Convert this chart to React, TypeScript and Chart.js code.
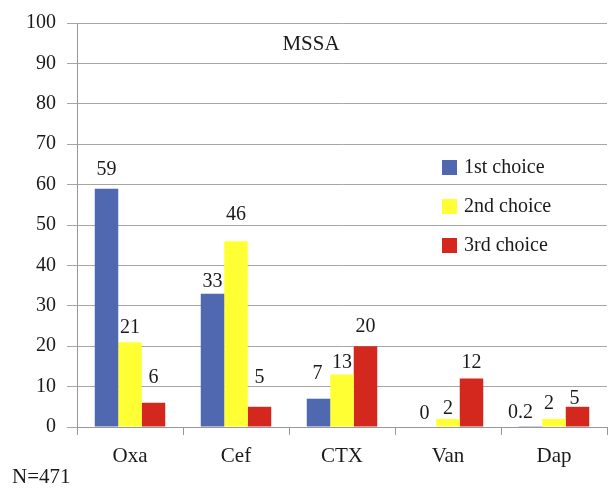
import React, { useEffect, useRef } from "react";
import { Chart, registerables } from "chart.js";

Chart.register(...registerables);

const categories = ["Oxa", "Cef", "CTX", "Van", "Dap"];
const seriesNames = ["1st choice", "2nd choice", "3rd choice"];
const firstChoice = [59, 33, 7, 0, 0.2];
const secondChoice = [21, 46, 13, 2, 2];
const thirdChoice = [6, 5, 20, 12, 5];
const seriesColors = ["#5068B0", "#FFFF33", "#D4281E"];
const titleText = "MSSA";
const noteText = "N=471";
const yTicksMax = 100;
const yStep = 10;

// label styling: gap (px) between bar top and label, horizontal nudge (px)
const labelGap = [
  [14, 7, 20, 8, 8],
  [9, 21, 6, 5, 10],
  [20, 24, 14, 11, 3],
];
const labelNudge = [
  [0, 0, -1, 0, -10],
  [0, 0, 0, 0, -5],
  [0, 0, 0, 0, -3],
];

const FONT = "'Liberation Serif', 'Times New Roman', serif";

const overlayPlugin = {
  id: "overlay",
  afterDatasetsDraw(chart: any) {
    const { ctx, chartArea } = chart;
    ctx.save();
    // data labels
    ctx.fillStyle = "#1a1a1a";
    ctx.font = `20px ${FONT}`;
    ctx.textAlign = "center";
    ctx.textBaseline = "alphabetic";
    chart.data.datasets.forEach((ds: any, i: number) => {
      const meta = chart.getDatasetMeta(i);
      meta.data.forEach((el: any, j: number) => {
        ctx.fillText(String(ds.data[j]), el.x + labelNudge[i][j], el.y - labelGap[i][j]);
      });
    });
    // title
    ctx.font = `21px ${FONT}`;
    ctx.textBaseline = "middle";
    ctx.fillText(titleText, chartArea.left + 234, chartArea.top + 21);
    // legend
    ctx.textAlign = "left";
    ctx.font = `20px ${FONT}`;
    chart.data.datasets.forEach((ds: any, i: number) => {
      const cy = chartArea.top + 145 + i * 39;
      const sx = chartArea.left + 365;
      ctx.fillStyle = ds.backgroundColor;
      ctx.fillRect(sx, cy - 8, 15, 15);
      ctx.fillStyle = "#1a1a1a";
      ctx.fillText(ds.label, sx + 22, cy);
    });
    // note
    ctx.font = `21px ${FONT}`;
    ctx.fillText(noteText, 12, 477);
    ctx.restore();
  },
};

export default function App() {
  const ref = useRef<HTMLCanvasElement | null>(null);
  useEffect(() => {
    if (!ref.current) return;
    const chart = new Chart(ref.current, {
      type: "bar",
      data: {
        labels: categories,
        datasets: [firstChoice, secondChoice, thirdChoice].map((d, i) => ({
          label: seriesNames[i],
          data: d,
          backgroundColor: seriesColors[i],
          borderWidth: 0,
          categoryPercentage: 0.665,
          barPercentage: 1.0,
        })),
      },
      options: {
        responsive: false,
        animation: false,
        devicePixelRatio: 1,
        layout: { padding: { top: 19, right: 1, left: 0, bottom: 0 } },
        plugins: {
          legend: { display: false },
          tooltip: { enabled: false },
          title: { display: false },
        },
        scales: {
          x: {
            grid: {
              display: true,
              offset: true,
              drawOnChartArea: false,
              drawTicks: true,
              tickLength: 8,
              color: "#999999",
              lineWidth: 1,
            },
            border: { display: true, color: "#999999", width: 1 },
            ticks: {
              color: "#1a1a1a",
              font: { family: FONT, size: 21 },
              padding: 9,
            },
            afterFit(scale: any) {
              scale.height = 63;
            },
          },
          y: {
            min: 0,
            max: yTicksMax,
            grid: {
              color: "#a6a6a6",
              lineWidth: 1,
              drawTicks: true,
              tickLength: 10,
            },
            border: { display: true, color: "#999999", width: 1 },
            ticks: {
              stepSize: yStep,
              color: "#1a1a1a",
              font: { family: FONT, size: 20 },
              padding: 11,
            },
            afterFit(scale: any) {
              scale.width = 77;
            },
          },
        },
      },
      plugins: [overlayPlugin],
    });
    return () => chart.destroy();
  }, []);
  return (
    <div style={{ position: "absolute", left: 0, top: 0, width: 608, height: 490, background: "#fff" }}>
      <canvas ref={ref} width={608} height={490} />
    </div>
  );
}
